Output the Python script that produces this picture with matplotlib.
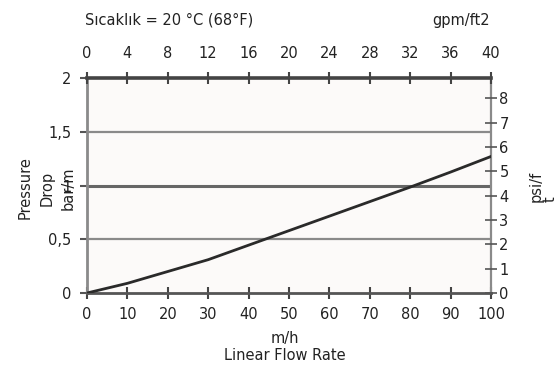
import matplotlib
matplotlib.use("Agg")
import matplotlib.pyplot as plt
from matplotlib.ticker import FixedLocator, FixedFormatter

# ---- data ----
flow_mh = [0, 10, 20, 30, 40, 50, 60, 70, 80, 90, 100]
drop_bar_m = [0, 0.09, 0.20, 0.31, 0.445, 0.58, 0.715, 0.85, 0.985, 1.125, 1.27]

bottom_ticks = [0, 10, 20, 30, 40, 50, 60, 70, 80, 90, 100]
bottom_labels = ["0", "10", "20", "30", "40", "50", "60", "70", "80", "90", "100"]
top_ticks = [0, 4, 8, 12, 16, 20, 24, 28, 32, 36, 40]
top_labels = ["0", "4", "8", "12", "16", "20", "24", "28", "32", "36", "40"]
left_ticks = [0, 0.5, 1.0, 1.5, 2.0]
left_labels = ["0", "0,5", "1", "1,5", "2"]
right_ticks = [0, 1, 2, 3, 4, 5, 6, 7, 8]
right_labels = ["0", "1", "2", "3", "4", "5", "6", "7", "8"]
grid_levels = [0.5, 1.0, 1.5]

title_text = "Sıcaklık = 20 °C (68°F)"
top_unit = "gpm/ft2"
ylabel_left = "Pressure\nDrop\nbar/m"
ylabel_right = "psi/f\nt"
xlabel = "m/h\nLinear Flow Rate"

plt.rcParams['font.family'] = ['DejaVu Sans']
FS = 10.5
TXT = "#222222"

fig = plt.figure(figsize=(5.56, 3.76), dpi=100)
fig.patch.set_facecolor("white")
W, H = 556, 376
ax = fig.add_axes([87 / W, 1 - 293 / H, (491 - 87) / W, (293 - 78) / H])
ax.set_facecolor("#fcfaf9")

ax.set_xlim(0, 100)
ax.set_ylim(0, 2)

for g in grid_levels:
    ax.axhline(g, color="#666666" if g == 1.0 else "#8a8a8a",
               lw=2.2 if g == 1.0 else 1.6, zorder=1)

ax.plot(flow_mh, drop_bar_m, color="#2a2a2a", lw=2.0, zorder=3)

ax.xaxis.set_major_locator(FixedLocator(bottom_ticks))
ax.xaxis.set_major_formatter(FixedFormatter(bottom_labels))
ax.yaxis.set_major_locator(FixedLocator(left_ticks))
ax.yaxis.set_major_formatter(FixedFormatter(left_labels))
ax.tick_params(axis="x", direction="inout", length=8, width=1.5, color="#444444",
               labelsize=FS, labelcolor=TXT, pad=6)
ax.tick_params(axis="y", direction="out", length=5, width=1.5, color="#555555",
               labelsize=FS, labelcolor=TXT, pad=6)

ax.spines["left"].set_color("#8a8a8a")
ax.spines["left"].set_linewidth(2.0)
ax.spines["bottom"].set_color("#555555")
ax.spines["bottom"].set_linewidth(2.0)
ax.spines["top"].set_color("#444444")
ax.spines["top"].set_linewidth(2.6)
ax.spines["right"].set_color("#8a8a8a")
ax.spines["right"].set_linewidth(1.6)

# top axis (gpm/ft2)
axt = ax.twiny()
axt.set_xlim(0, 40)
axt.xaxis.set_major_locator(FixedLocator(top_ticks))
axt.xaxis.set_major_formatter(FixedFormatter(top_labels))
axt.tick_params(axis="x", direction="inout", length=8, width=1.5, color="#444444",
                labelsize=FS, labelcolor=TXT, pad=8)
for s in axt.spines.values():
    s.set_visible(False)

# right axis (psi/ft)
axr = ax.twinx()
axr.set_ylim(0, 2 * 4.42)
axr.yaxis.set_major_locator(FixedLocator(right_ticks))
axr.yaxis.set_major_formatter(FixedFormatter(right_labels))
axr.tick_params(axis="y", direction="inout", length=8, width=1.2, color="#555555",
                labelsize=FS, labelcolor=TXT, pad=2)
for s in axr.spines.values():
    s.set_visible(False)

# texts
fig.text(85 / W, 1 - 20 / H, title_text, ha="left", va="center", fontsize=FS, color=TXT)
fig.text(490 / W, 1 - 20 / H, top_unit, ha="right", va="center", fontsize=FS, color=TXT)
fig.text(47 / W, 1 - 188 / H, ylabel_left, rotation=90, ha="center", va="center",
         multialignment="center", fontsize=FS, color=TXT, linespacing=1.55)
fig.text(543 / W, 1 - 186 / H, ylabel_right, rotation=90, ha="center", va="center",
         multialignment="left", fontsize=FS, color=TXT, linespacing=0.9)
fig.text(285 / W, 1 - 347 / H, xlabel, ha="center", va="center",
         multialignment="center", fontsize=FS, color=TXT, linespacing=1.1)

fig.savefig("out.png", dpi=100)
